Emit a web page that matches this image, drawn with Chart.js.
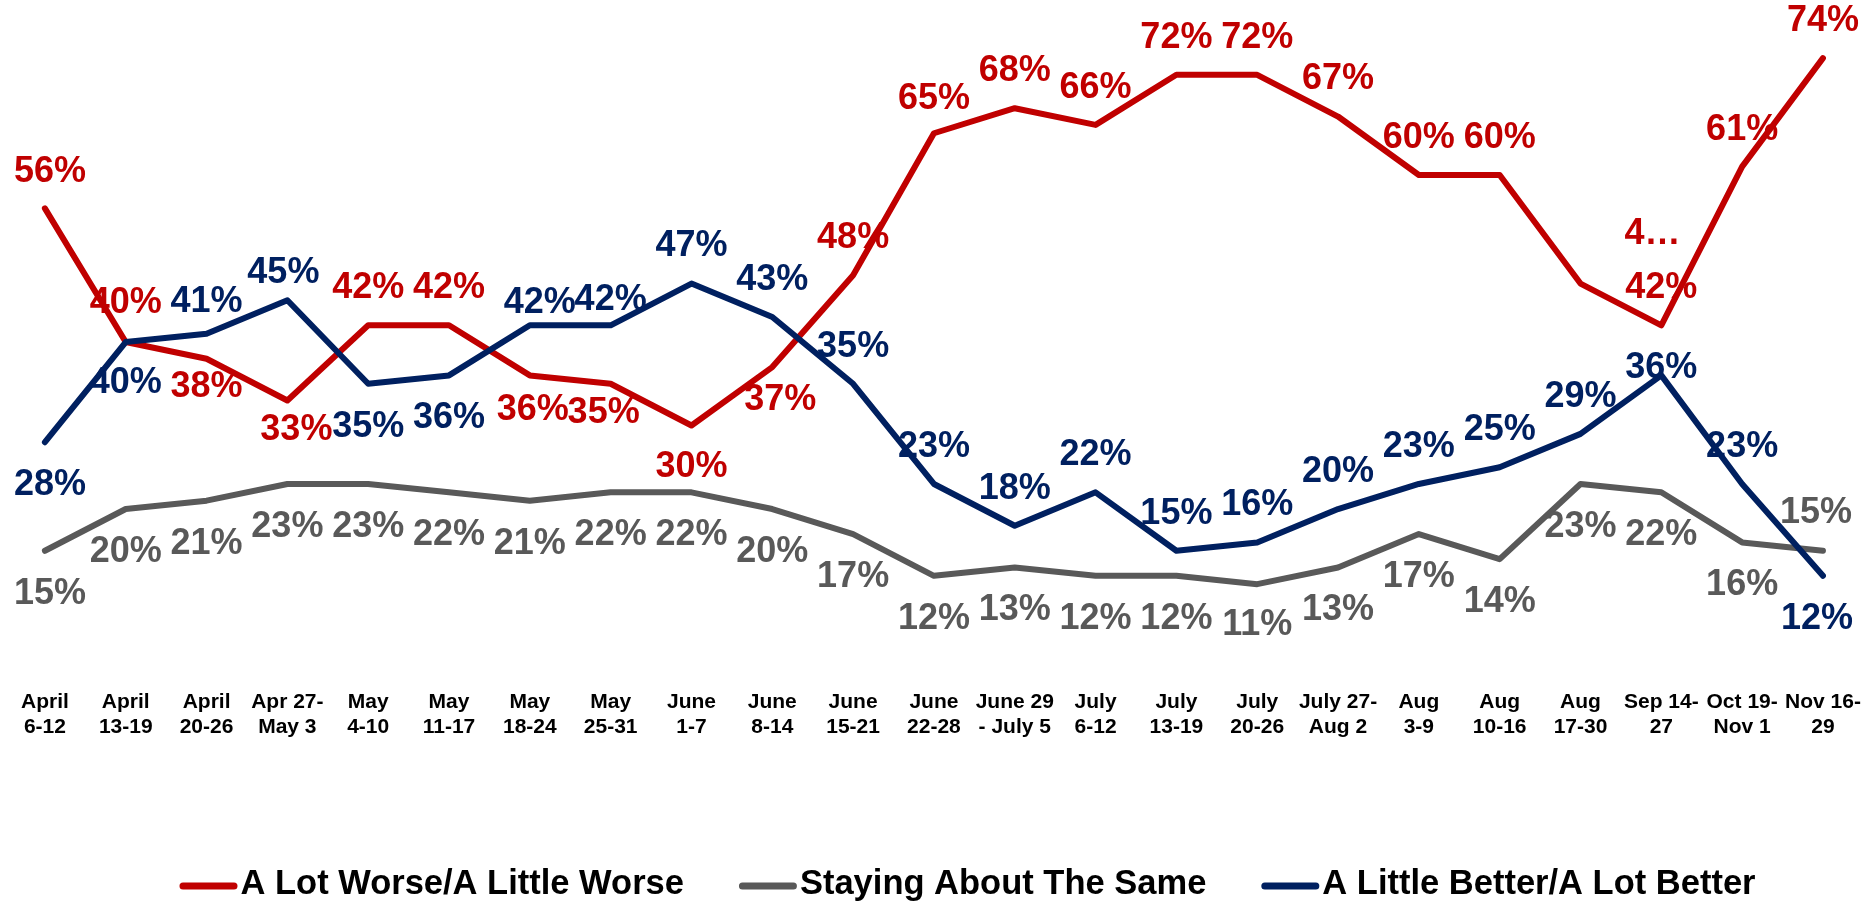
<!DOCTYPE html>
<html>
<head>
<meta charset="utf-8">
<script src="https://cdn.jsdelivr.net/npm/chart.js@4/dist/chart.umd.min.js"></script>
<style>
  html, body { margin: 0; padding: 0; background: #ffffff; }
  #wrap { width: 1875px; height: 903px; position: relative; }
</style>
</head>
<body>
<div id="wrap"><canvas id="c" width="1875" height="903"></canvas></div>
<script>
// ---- data ----
const categories = [
  ['April', '6-12'], ['April', '13-19'], ['April', '20-26'], ['Apr 27-', 'May 3'],
  ['May', '4-10'], ['May', '11-17'], ['May', '18-24'], ['May', '25-31'],
  ['June', '1-7'], ['June', '8-14'], ['June', '15-21'], ['June', '22-28'],
  ['June 29', '- July 5'], ['July', '6-12'], ['July', '13-19'], ['July', '20-26'],
  ['July 27-', 'Aug 2'], ['Aug', '3-9'], ['Aug', '10-16'], ['Aug', '17-30'],
  ['Sep 14-', '27'], ['Oct 19-', 'Nov 1'], ['Nov 16-', '29']
];
const seriesNames = ['A Lot Worse/A Little Worse', 'Staying About The Same', 'A Little Better/A Lot Better'];
const worse  = [56, 40, 38, 33, 42, 42, 36, 35, 30, 37, 48, 65, 68, 66, 72, 72, 67, 60, 60, 47, 42, 61, 74];
const same   = [15, 20, 21, 23, 23, 22, 21, 22, 22, 20, 17, 12, 13, 12, 12, 11, 13, 17, 14, 23, 22, 16, 15];
const better = [28, 40, 41, 45, 35, 36, 42, 42, 47, 43, 35, 23, 18, 22, 15, 16, 20, 23, 25, 29, 36, 23, 12];
// label text overrides (the reference shows a truncated label)
const worseLabelText = {19: '4\u2026'};

// ---- label placement (styling, separate from data) ----
const A = -37, B = 43;
const labelLayout = {
  worse: {
    dy: [-36, -39, 28, 30, A, A, 35, 29, 42, 33, A, -34, A, A, A, A, A, A, A, -49, A, A, A],
    dx: {0: 5, 3: 9, 6: 3, 7: -7, 9: 8, 19: 72}
  },
  same: {
    dy: [B, B, B, B, B, B, B, B, B, B, B, B, B, B, B, 41, B, B, B, B, B, B, -38],
    dx: {0: 5, 22: -7}
  },
  better: {
    dy: [B, 41, -32, -27, B, B, -22, -25, A, A, A, A, A, A, A, A, A, A, A, A, -7, A, B],
    dx: {0: 5, 3: -4, 6: 10, 22: -6}
  }
};

const RED = '#C00000', GRAY = '#595959', NAVY = '#002060';
const FONT = "'Liberation Sans', Arial, Helvetica, sans-serif";

const pointLabels = {
  id: 'pointLabels',
  afterDatasetsDraw(chart) {
    const ctx = chart.ctx;
    ctx.save();
    ctx.font = 'bold 36px ' + FONT;
    ctx.textAlign = 'center';
    ctx.textBaseline = 'middle';
    chart.data.datasets.forEach((ds, di) => {
      const meta = chart.getDatasetMeta(di);
      const lay = labelLayout[ds.key];
      ctx.fillStyle = ds.borderColor;
      meta.data.forEach((pt, i) => {
        const v = ds.data[i];
        let txt = v + '%';
        if (ds.labelText && ds.labelText[i] !== undefined) txt = ds.labelText[i];
        const dx = lay.dx[i] || 0;
        const dy = lay.dy[i];
        ctx.fillText(txt, pt.x + dx, pt.y + dy);
      });
    });
    ctx.restore();
  }
};

const lineLegend = {
  id: 'lineLegend',
  afterDraw(chart) {
    const ctx = chart.ctx;
    ctx.save();
    ctx.font = 'bold 34.5px ' + FONT;
    ctx.textBaseline = 'middle';
    const markW = 58, gapText = 3, gapItem = 55;
    const items = chart.data.datasets.map(ds => ({
      label: ds.label, color: ds.borderColor, w: markW + gapText + ctx.measureText(ds.label).width
    }));
    const total = items.reduce((s, it) => s + it.w, 0) + gapItem * (items.length - 1);
    let x = chart.width / 2 + 30 - total / 2;
    const y = 884;
    items.forEach(it => {
      ctx.strokeStyle = it.color;
      ctx.lineWidth = 7;
      ctx.lineCap = 'round';
      ctx.beginPath();
      ctx.moveTo(x + 3.5, y + 2);
      ctx.lineTo(x + markW - 3.5, y + 2);
      ctx.stroke();
      ctx.fillStyle = '#000000';
      ctx.fillText(it.label, x + markW + gapText, y);
      x += it.w + gapItem;
    });
    ctx.restore();
  }
};

const mk = (key, name, data, color, order, labelText) => ({
  key, label: name, data, borderColor: color, backgroundColor: color,
  borderWidth: 6, pointRadius: 0, pointHoverRadius: 0, tension: 0,
  borderCapStyle: 'round', borderJoinStyle: 'round', fill: false, order, labelText
});

new Chart(document.getElementById('c'), {
  type: 'line',
  data: {
    labels: categories,
    datasets: [
      mk('worse', seriesNames[0], worse, RED, 2, worseLabelText),
      mk('same', seriesNames[1], same, GRAY, 1),
      mk('better', seriesNames[2], better, NAVY, 0)
    ]
  },
  options: {
    responsive: false,
    animation: false,
    devicePixelRatio: 1,
    layout: { padding: { top: 8, left: 4.5, right: 5.4, bottom: 149 } },
    plugins: { legend: { display: false }, tooltip: { enabled: false } },
    scales: {
      x: {
        offset: true,
        grid: { display: false, drawTicks: false },
        border: { display: false },
        ticks: {
          autoSkip: false, maxRotation: 0, minRotation: 0, padding: 14,
          color: '#000000',
          font: { family: FONT, size: 21, weight: 'bold', lineHeight: 1.19 }
        }
      },
      y: {
        display: false,
        min: 0, max: 80
      }
    }
  },
  plugins: [pointLabels, lineLegend]
});
</script>
</body>
</html>
